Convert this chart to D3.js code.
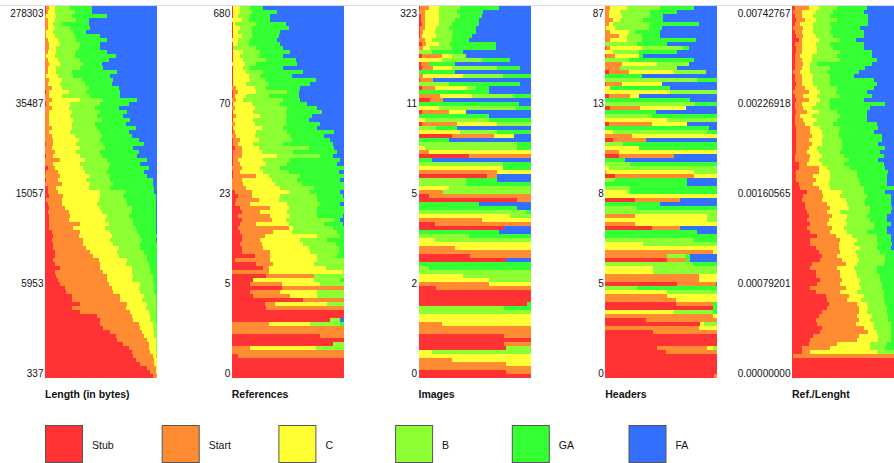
<!DOCTYPE html>
<html>
<head>
<meta charset="utf-8">
<script src="https://cdn.jsdelivr.net/npm/d3@7"></script>
<style>
  body { margin: 0; background: #fff; }
  svg { display: block; font-family: "Liberation Sans", Arial, sans-serif; }
</style>
</head>
<body>
<svg id="chart"></svg>
<script>
"use strict";

// =================== DATA ===================
// quality classes, stacked left to right
const categories = ["Stub", "Start", "C", "B", "GA", "FA"];
const panelTitles = ["Length (in bytes)", "References", "Images", "Headers", "Ref./Lenght"];

// tick labels, bottom to top
const lengthTicks = ["337", "5953", "15057", "35487", "278303"];
const referencesTicks = ["0", "5", "23", "70", "680"];
const imagesTicks = ["0", "2", "5", "11", "323"];
const headersTicks = ["0", "5", "8", "13", "87"];
const ratioTicks = ["0.00000000", "0.00079201", "0.00160565", "0.00226918", "0.00742767"];

// one row per bin, top (highest) to bottom (lowest):
// cumulative % at the end of Stub, Start, C, B, GA (FA fills the rest)
const lengthRows = [
  [1,4,9,22,42],[1,3,9,27,42],[0,1,10,24,55],[0,3,9,28,39],[0,3,7,15,39],
  [0,3,9,22,40],[0,1,7,25,37],[0,1,9,27,49],[0,3,12,28,55],[0,4,13,31,49],
  [0,4,10,30,49],[0,3,10,28,55],[0,1,9,27,63],[0,3,12,31,57],[0,4,13,34,51],
  [0,3,10,31,52],[0,3,10,24,64],[0,1,12,25,58],[0,4,15,33,61],[0,3,13,36,60],
  [0,6,15,39,66],[1,4,21,37,67],[0,4,15,40,67],[0,6,31,52,82],[1,4,22,49,75],
  [0,6,21,45,66],[0,4,24,49,73],[0,4,22,46,70],[0,4,25,51,76],[0,4,24,45,72],
  [0,6,24,46,81],[0,4,22,49,75],[0,6,27,51,78],[0,7,30,49,84],[1,7,28,52,88],
  [0,6,31,54,79],[0,9,28,49,84],[1,7,31,51,82],[0,13,36,55,91],[0,7,31,58,85],
  [3,9,34,57,93],[1,12,36,55,88],[0,13,40,58,91],[1,12,37,58,96],[0,15,40,61,96],
  [3,10,39,58,97],[3,12,49,72,97],[4,16,49,70,99],[1,15,48,72,99],[3,15,46,73,99],
  [4,18,49,78,99],[3,21,51,78,99],[4,22,55,75,99],[4,21,54,79,99],[4,31,57,79,99],
  [4,25,54,81,99],[6,31,58,82,99],[7,30,60,85,100],[6,34,58,87,99],[7,34,61,85,100],
  [7,37,66,85,100],[9,40,64,88,100],[9,43,66,91,100],[7,48,73,91,100],[9,49,72,93,100],
  [13,49,78,94,100],[9,52,78,94,100],[10,55,79,96,100],[12,55,78,96,100],[13,57,85,97,100],
  [18,60,84,97,100],[19,61,85,97,100],[24,67,88,99,100],[24,67,87,99,100],[31,73,91,99,100],
  [24,72,90,99,100],[31,76,93,99,100],[46,78,94,99,100],[49,79,94,99,100],[49,84,96,100,100],
  [52,85,96,100,100],[58,87,97,100,100],[63,88,97,100,100],[64,91,99,100,100],[70,93,99,100,100],
  [75,93,99,100,100],[78,94,99,100,100],[79,96,99,100,100],[81,97,100,100,100],[85,97,100,100,100],
  [91,99,100,100,100],[94,99,100,100,100],[96,100,100,100,100]
];

const referencesRows = [
  [1,1,7,16,28],[1,1,7,18,40],[1,1,6,16,34],[0,0,9,15,34],[1,1,3,22,48],
  [1,1,7,18,51],[1,1,6,18,43],[1,1,9,18,42],[0,0,6,16,40],[1,1,6,15,43],
  [1,1,1,22,46],[1,1,10,25,52],[1,1,7,24,46],[1,1,10,31,57],[0,0,12,22,58],
  [1,1,10,16,46],[1,1,13,28,64],[1,1,15,25,54],[1,1,16,31,75],[1,1,13,33,70],
  [0,4,21,31,61],[1,6,22,49,60],[1,3,13,33,60],[0,4,10,46,61],[1,1,18,43,67],
  [0,3,21,49,76],[1,1,19,48,81],[1,4,25,49,72],[1,1,19,48,69],[0,3,21,49,79],
  [1,1,27,46,76],[1,3,22,49,91],[0,4,21,52,82],[1,7,24,54,88],[1,6,19,46,90],
  [3,9,24,69,91],[1,9,27,55,94],[1,9,40,79,90],[1,6,28,52,97],[1,7,31,49,94],
  [0,9,25,43,100],[1,7,28,51,96],[1,22,33,61,100],[0,9,36,58,97],[0,10,39,63,100],
  [0,13,43,73,100],[3,18,52,70,97],[6,18,43,76,99],[4,24,42,76,100],[3,16,49,79,97],
  [7,34,51,76,100],[9,25,49,76,100],[6,34,52,76,99],[9,36,48,91,97],[7,22,51,82,99],
  [6,51,55,90,100],[7,37,54,94,100],[9,30,76,97,100],[9,25,61,85,100],[7,27,64,93,100],
  [9,28,69,96,100],[9,34,70,96,100],[21,34,76,94,100],[3,34,76,100,100],[22,37,73,100,100],
  [28,33,84,100,100],[0,33,99,100,100],[31,73,73,100,100],[19,19,73,97,100],[16,45,79,100,100],
  [45,100,100,100,100],[16,43,76,100,100],[19,52,76,100,100],[64,100,100,100,100],[30,39,85,100,100],
  [31,100,100,100,100],[100,100,100,100,100],[100,100,100,100,100],[88,88,88,97,97],[0,33,70,97,100],
  [0,100,100,100,100],[0,100,100,100,100],[79,100,100,100,100],[100,100,100,100,100],[90,90,90,100,100],
  [0,16,75,100,100],[0,100,100,100,100],[6,100,100,100,100],[100,100,100,100,100],[100,100,100,100,100],
  [100,100,100,100,100],[100,100,100,100,100],[100,100,100,100,100]
];

const imagesRows = [
  [1,9,18,37,72],[0,6,18,34,58],[2,6,18,37,57],[2,6,18,33,54],[3,6,18,30,54],
  [1,6,16,27,51],[1,4,15,31,51],[1,3,16,30,48],[0,6,12,30,45],[3,7,18,28,69],
  [0,4,10,30,69],[0,0,0,12,40],[3,21,30,42,42],[0,0,21,57,82],[2,9,9,9,33],
  [3,13,30,70,91],[0,0,0,0,33],[0,4,40,75,100],[1,13,13,13,13],[0,0,0,27,91],
  [3,15,43,51,63],[0,0,0,0,63],[0,19,48,85,100],[10,22,22,22,22],[0,0,0,0,90],
  [0,0,18,87,100],[3,27,42,42,42],[0,0,0,0,63],[0,0,6,63,100],[3,34,70,100,100],
  [0,0,0,16,34],[0,0,37,70,100],[30,67,85,85,85],[0,0,0,0,27],[0,0,0,88,100],
  [0,0,6,88,100],[0,9,100,100,100],[45,100,100,100,100],[0,0,0,0,12],[0,0,0,75,100],
  [0,0,75,75,100],[0,70,100,100,100],[61,70,70,70,70],[0,0,0,42,70],[0,0,0,42,100],
  [0,0,27,100,100],[0,22,22,100,100],[9,100,100,100,100],[88,100,100,100,100],[0,0,0,0,54],
  [0,0,0,0,88],[0,0,0,96,100],[0,0,82,100,100],[0,57,100,100,100],[15,100,100,100,100],
  [76,76,76,76,76],[0,0,0,0,72],[0,0,0,45,100],[0,0,15,100,100],[0,0,100,100,100],
  [0,33,100,100,100],[0,100,100,100,100],[46,100,100,100,100],[78,78,78,78,78],[0,0,0,0,100],
  [0,0,0,9,100],[0,0,0,100,100],[0,0,40,100,100],[0,0,63,100,100],[0,63,100,100,100],
  [16,100,100,100,100],[100,100,100,100,100],[100,100,100,100,100],[100,100,100,100,100],[97,97,97,97,100],
  [0,0,0,76,100],[0,0,0,100,100],[0,0,100,100,100],[0,0,100,100,100],[0,21,100,100,100],
  [0,100,100,100,100],[0,100,100,100,100],[76,100,100,100,100],[100,100,100,100,100],[76,100,100,100,100],
  [78,78,78,100,100],[0,0,12,100,100],[0,0,100,100,100],[0,30,100,100,100],[0,78,100,100,100],
  [0,100,100,100,100],[78,100,100,100,100],[100,100,100,100,100]
];

const headersRows = [
  [0,4,19,49,79],[0,3,13,40,64],[0,3,15,40,52],[0,7,13,34,52],[0,3,7,40,84],
  [0,1,9,39,51],[0,4,21,27,49],[0,12,19,33,49],[0,4,19,33,81],[0,0,0,28,55],
  [1,4,33,69,75],[0,0,7,30,64],[1,9,30,30,34],[0,0,0,21,79],[0,15,46,75,75],
  [0,13,13,64,64],[3,21,61,90,90],[0,0,0,0,33],[0,0,0,82,100],[1,15,51,51,51],
  [0,0,4,4,58],[0,0,58,100,100],[3,22,30,30,30],[0,0,0,0,76],[0,0,0,80,100],
  [4,31,72,72,72],[0,0,0,0,45],[0,0,0,42,100],[0,0,55,100,100],[3,42,73,73,73],
  [0,0,0,0,93],[0,0,7,91,100],[0,24,100,100,100],[7,36,36,36,36],[0,0,0,16,100],
  [0,0,30,30,100],[0,12,100,100,100],[12,61,61,61,61],[0,0,0,0,18],[0,0,0,22,100],
  [0,0,3,100,100],[0,1,79,100,100],[9,79,100,100,100],[0,0,0,9,73],[0,0,0,0,73],
  [0,0,0,22,100],[0,0,19,22,100],[0,0,100,100,100],[27,67,67,67,67],[0,0,0,0,49],
  [0,0,0,28,100],[0,0,0,100,100],[0,27,91,100,100],[0,0,91,100,100],[0,27,100,100,100],
  [42,67,67,67,67],[0,0,0,0,82],[0,0,0,0,100],[0,0,0,79,100],[0,0,34,100,100],
  [0,0,100,100,100],[0,96,100,100,100],[0,55,55,72,76],[55,72,72,72,76],[0,0,0,78,100],
  [0,0,43,100,100],[0,0,43,100,100],[0,84,100,100,100],[0,84,100,100,100],[64,99,99,99,99],
  [0,0,0,28,100],[0,0,55,100,100],[0,55,100,100,100],[0,63,100,100,100],[63,96,96,96,100],
  [96,96,96,96,100],[0,0,61,96,100],[0,96,100,100,100],[36,100,100,100,100],[85,85,88,100,100],
  [0,84,100,100,100],[43,100,100,100,100],[100,100,100,100,100],[100,100,100,100,100],[100,100,100,100,100],
  [46,91,96,100,100],[54,100,100,100,100],[100,100,100,100,100],[100,100,100,100,100],[100,100,100,100,100],
  [100,100,100,100,100],[100,100,100,100,100],[97,100,100,100,100]
];

const ratioRows = [
  [3,15,24,40,67],[1,9,21,37,64],[3,9,19,34,68],[4,12,21,40,68],[3,7,19,34,68],
  [1,10,19,36,61],[3,9,19,34,64],[4,10,21,37,64],[6,9,24,43,57],[3,9,21,34,64],
  [4,9,22,37,64],[4,9,22,43,71],[3,7,18,40,71],[3,9,18,43,76],[3,10,16,22,71],
  [3,9,16,34,65],[1,7,16,31,60],[3,9,19,34,55],[3,9,18,34,73],[4,9,19,34,76],
  [3,12,22,40,73],[1,15,25,39,67],[3,10,22,43,71],[4,15,25,34,64],[3,9,21,34,83],
  [3,10,18,34,70],[4,13,24,40,67],[3,7,18,43,67],[3,10,22,40,67],[3,12,19,37,76],
  [4,16,25,43,77],[4,16,27,42,73],[4,18,28,42,80],[4,15,27,45,80],[4,18,27,45,77],
  [4,15,22,45,83],[4,13,24,43,79],[3,16,27,46,82],[3,15,24,51,77],[6,13,27,46,82],
  [6,24,31,52,83],[4,24,34,58,86],[4,19,34,58,85],[4,21,34,60,85],[6,19,33,61,85],
  [7,24,34,64,91],[13,27,45,64,83],[10,28,43,67,88],[9,27,48,65,88],[12,31,49,65,88],
  [12,34,51,70,89],[13,31,43,70,88],[15,36,49,67,85],[13,33,48,70,85],[16,31,49,73,88],
  [13,36,46,73,85],[16,34,49,67,85],[22,39,54,76,88],[16,43,58,76,88],[16,42,55,77,89],
  [21,42,61,76,88],[24,43,57,79,91],[27,40,58,83,91],[25,45,60,83,91],[18,48,58,82,91],
  [16,40,55,76,91],[21,43,57,76,91],[21,43,58,79,91],[25,45,61,79,91],[22,43,60,80,91],
  [16,48,62,80,91],[21,43,58,82,91],[30,51,64,82,91],[31,49,62,82,91],[33,58,67,83,91],
  [31,60,68,85,91],[27,60,67,85,91],[24,58,71,86,91],[21,60,70,86,91],[22,57,73,88,91],
  [27,64,73,88,91],[25,68,76,88,91],[19,60,77,88,91],[16,58,77,88,91],[15,40,70,85,91],
  [9,34,70,83,91],[9,16,76,91,91],[1,100,100,100,100],[100,100,100,100,100],[100,100,100,100,100],
  [100,100,100,100,100],[100,100,100,100,100],[100,100,100,100,100]
];

// =================== SETUP ===================
const svgWidth = 894;
const svgHeight = 463;
const classColors = ["#ff3333", "#ff8c33", "#ffff33", "#8cff33", "#33ff33", "#3370ff"];
const plotTop = 6, plotBottom = 378;
const panelLeft = 45, panelStep = 186.75, panelWidth = 112;

const svg = d3.select("#chart")
  .attr("width", svgWidth)
  .attr("height", svgHeight);

// thin frame line along the top
svg.append("line")
  .attr("x1", 0).attr("x2", svgWidth)
  .attr("y1", 5.5).attr("y2", 5.5)
  .attr("stroke", "#dcdcdc");

const panels = [
  { rows: lengthRows, ticks: lengthTicks },
  { rows: referencesRows, ticks: referencesTicks },
  { rows: imagesRows, ticks: imagesTicks },
  { rows: headersRows, ticks: headersTicks },
  { rows: ratioRows, ticks: ratioTicks }
];

// =================== PANELS ===================
panels.forEach((p, i) => {
  const x0 = panelLeft + i * panelStep;
  const x = d3.scaleLinear().domain([0, 100]).range([x0, x0 + panelWidth]);
  const y = d3.scaleBand().domain(d3.range(p.rows.length)).range([plotTop, plotBottom]);

  const segs = p.rows.flatMap((r, ri) => {
    const b = [0, ...r, 100];
    return categories.map((c, ci) => ({ ri, ci, a: b[ci], z: b[ci + 1] }))
      .filter(s => s.z > s.a);
  });

  const g = svg.append("g");
  g.selectAll("rect")
    .data(segs)
    .join("rect")
    .attr("x", d => x(d.a))
    .attr("width", d => x(d.z) - x(d.a))
    .attr("y", d => y(d.ri))
    .attr("height", y.bandwidth())
    .attr("fill", d => classColors[d.ci])
    .attr("shape-rendering", "crispEdges");

  // tick labels
  const t = d3.scalePoint().domain(p.ticks).range([373, 13]);
  svg.append("g")
    .attr("transform", `translate(${x0 - 1.5},0)`)
    .call(d3.axisLeft(t).tickSize(0).tickPadding(0))
    .call(a => a.select(".domain").remove())
    .attr("font-family", "'Liberation Sans', Arial, sans-serif")
    .attr("font-size", 10)
    .selectAll("text").attr("fill", "#111");

  // panel title
  svg.append("text")
    .attr("x", x0)
    .attr("y", 398)
    .style("font-size", "10.5px")
    .style("font-weight", "700")
    .attr("fill", "#111")
    .text(panelTitles[i]);
});

// =================== LEGEND ===================
const legendStep = 116.7;
categories.forEach((c, i) => {
  const lx = 45 + i * legendStep;
  svg.append("rect")
    .attr("x", lx + 0.5).attr("y", 425.5)
    .attr("width", 37).attr("height", 37)
    .attr("fill", classColors[i])
    .attr("stroke", "#555");
  svg.append("text")
    .attr("x", lx + 47)
    .attr("y", 449)
    .style("font-size", "10.5px")
    .attr("fill", "#111")
    .text(c);
});
</script>
</body>
</html>
